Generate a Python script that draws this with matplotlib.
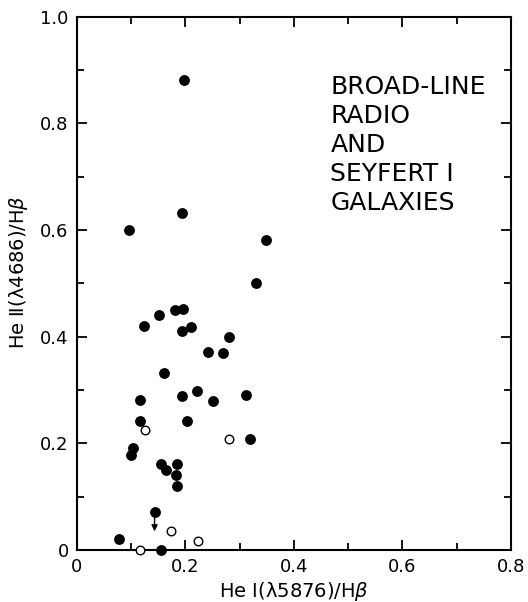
import matplotlib.pyplot as plt
from matplotlib.ticker import MultipleLocator, FuncFormatter

# broad-line radio galaxies and Seyfert 1s (filled)
he1_filled = [0.198, 0.096, 0.193, 0.348, 0.330, 0.152, 0.180, 0.195, 0.123, 0.193,
              0.211, 0.280, 0.242, 0.270, 0.161, 0.116, 0.193, 0.222, 0.250, 0.312,
              0.116, 0.202, 0.104, 0.100, 0.319, 0.154, 0.164, 0.184, 0.182, 0.184,
              0.143, 0.077, 0.154]
he2_filled = [0.881, 0.600, 0.631, 0.581, 0.501, 0.440, 0.450, 0.451, 0.420, 0.410,
              0.419, 0.399, 0.371, 0.369, 0.331, 0.281, 0.289, 0.299, 0.280, 0.290,
              0.241, 0.241, 0.192, 0.178, 0.209, 0.161, 0.150, 0.161, 0.140, 0.120,
              0.072, 0.020, 0.000]

# open symbols
he1_open = [0.125, 0.280, 0.173, 0.223, 0.116]
he2_open = [0.225, 0.209, 0.036, 0.017, 0.000]

# upper limit arrow (x, top, tip)
limit_x = 0.143
limit_y = [0.060, 0.035]

fig = plt.figure(figsize=(5.28, 6.02), dpi=100)
ax = fig.add_axes([0.1458, 0.0864, 0.8220, 0.8859])

ax.scatter(he1_filled, he2_filled, s=46, c="black", zorder=3, clip_on=False)
ax.scatter(he1_open, he2_open, s=38, facecolors="white", edgecolors="black",
           linewidths=1.0, zorder=3, clip_on=False)
ax.annotate("", xy=(limit_x, limit_y[1]), xytext=(limit_x, limit_y[0]),
            arrowprops=dict(arrowstyle="-|>", color="black", lw=1.0,
                            mutation_scale=9, shrinkA=0, shrinkB=0))

ax.set_xlim(0, 0.8)
ax.set_ylim(0, 1.0)
ax.xaxis.set_major_locator(MultipleLocator(0.2))
ax.xaxis.set_minor_locator(MultipleLocator(0.1))
ax.yaxis.set_major_locator(MultipleLocator(0.2))
ax.yaxis.set_minor_locator(MultipleLocator(0.1))

fmt = FuncFormatter(lambda v, p: "0" if abs(v) < 1e-9 else "%.1f" % v)
ax.xaxis.set_major_formatter(fmt)
ax.yaxis.set_major_formatter(fmt)

ax.tick_params(which="both", direction="in", top=True, right=True,
               width=1.3, labelsize=13)
ax.tick_params(which="major", length=7, pad=6)
ax.tick_params(which="minor", length=5)
for s in ax.spines.values():
    s.set_linewidth(1.5)

ax.set_xlabel("He \u2160(\u03bb5876)/H$\\beta$", fontsize=14, va="top")
ax.xaxis.set_label_coords(0.5, -0.056)
ax.set_ylabel("He \u2161(\u03bb4686)/H$\\beta$", fontsize=14, va="center")
ax.yaxis.set_label_coords(-0.135, 0.52)

ax.text(0.584, 0.89, "BROAD-LINE\nRADIO\nAND\nSEYFERT I\nGALAXIES",
        transform=ax.transAxes, fontsize=18, va="top", ha="left", linespacing=1.26)

fig.savefig("out.png", dpi=100)
